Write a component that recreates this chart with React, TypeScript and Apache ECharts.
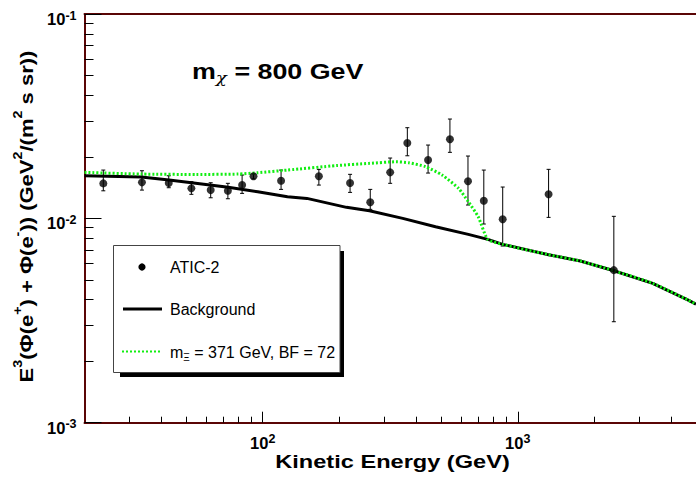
import React, { useEffect, useRef } from 'react';
import * as echarts from 'echarts';

// ATIC-2 data points (E in GeV, E^3 * flux)
const energy = [23.7, 33.6, 42.8, 52.5, 62.5, 73.0, 83.0, 92.0, 118, 166, 220, 264, 316, 369, 445, 542, 638, 736, 873, 1321, 2381];
const flux = [0.01483, 0.015, 0.01489, 0.01402, 0.01375, 0.01364, 0.01455, 0.01606, 0.01528, 0.01606, 0.01489, 0.01198, 0.01679, 0.02336, 0.01929, 0.02436, 0.01518, 0.0122, 0.00989, 0.01311, 0.00558];
const fluxLow = [0.01364, 0.01375, 0.01412, 0.01311, 0.01261, 0.01247, 0.01325, 0.0156, 0.01386, 0.01455, 0.0134, 0.01107, 0.01484, 0.02024, 0.01666, 0.02104, 0.01162, 0.00938, 0.00732, 0.01011, 0.00312];
const fluxHigh = [0.01723, 0.0171, 0.01616, 0.01511, 0.01494, 0.01484, 0.01629, 0.0165, 0.01723, 0.01737, 0.01642, 0.01386, 0.01973, 0.02777, 0.02284, 0.03062, 0.02018, 0.01723, 0.01423, 0.01737, 0.01023];

// Background curve
const bgEnergy = [20, 33.4, 42.9, 52.6, 73.2, 95.6, 125, 149, 213, 262, 354, 476, 640, 763, 873, 1307, 1760, 2383, 3382, 4663, 5000];
const bgFlux = [0.01616, 0.01593, 0.0154, 0.01494, 0.01418, 0.01349, 0.01275, 0.01252, 0.01132, 0.01089, 0.01, 0.0091, 0.00835, 0.00789, 0.00746, 0.00666, 0.00618, 0.00554, 0.00481, 0.00398, 0.0038];

// Signal + background curve
const sigEnergy = [20, 33.4, 55, 80, 95.6, 125, 195, 262, 333, 374, 435, 505, 586, 640, 700, 763, 873, 1307, 1760, 2383, 3382, 4663, 5000];
const sigFlux = [0.01679, 0.01647, 0.0164, 0.01647, 0.01672, 0.01723, 0.01813, 0.01858, 0.01892, 0.01871, 0.01789, 0.01629, 0.01402, 0.01206, 0.01018, 0.00789, 0.00746, 0.00666, 0.00618, 0.00554, 0.00481, 0.00398, 0.0038];

const xMajorTicks = [100, 1000];
const xMinorTicks = [30, 40, 50, 60, 70, 80, 90, 200, 300, 400, 500, 600, 700, 800, 900, 2000, 3000, 4000];
const yMajorTicks = [0.001, 0.01, 0.1];
const yMinorTicks = [0.002, 0.003, 0.004, 0.005, 0.006, 0.007, 0.008, 0.009, 0.02, 0.03, 0.04, 0.05, 0.06, 0.07, 0.08, 0.09];

const FONT = '"Liberation Sans", Arial, Helvetica, sans-serif';
const FRAME = '#5a0505';
const GREEN = '#11ee11';

const powLabel = (v: number) => `{b|10}{s|${Math.round(Math.log10(v))}}`;
const labelRich = {
  b: { fontSize: 16.5, fontWeight: 'bold', fontFamily: FONT, lineHeight: 20, color: '#000' },
  s: { fontSize: 12.5, fontWeight: 'bold', fontFamily: FONT, lineHeight: 12, verticalAlign: 'top', color: '#000' },
};

export default function App() {
  const ref = useRef<HTMLDivElement>(null);
  useEffect(() => {
    document.body.style.margin = '0';
    const chart = echarts.init(ref.current!, null, { renderer: 'svg' });
    const xBase = { type: 'log', logBase: 10, min: 20, max: 5000, splitLine: { show: false }, minorTick: { show: false } };
    const yBase = { type: 'log', logBase: 10, min: 0.001, max: 0.1, splitLine: { show: false }, minorTick: { show: false } };
    const option: any = {
      animation: false,
      backgroundColor: '#fff',
      grid: { left: 84.5, top: 14, width: 619.3, height: 408.7, containLabel: false },
      xAxis: [
        {
          ...xBase, position: 'bottom',
          axisLine: { show: true, lineStyle: { color: FRAME, width: 2 } },
          axisTick: { show: true, inside: true, length: 11, customValues: xMajorTicks, lineStyle: { color: '#000', width: 1 } },
          axisLabel: { show: true, customValues: xMajorTicks, margin: 10, fontSize: 16.5, fontWeight: 'bold', fontFamily: FONT, color: '#000', formatter: powLabel, rich: labelRich },
        },
        {
          ...xBase, position: 'bottom',
          axisLine: { show: false },
          axisTick: { show: true, inside: true, length: 6, customValues: xMinorTicks, lineStyle: { color: '#000', width: 1 } },
          axisLabel: { show: false },
        },
        {
          ...xBase, position: 'top',
          axisLine: { show: true, lineStyle: { color: FRAME, width: 2 } },
          axisTick: { show: false },
          axisLabel: { show: false },
        },
      ],
      yAxis: [
        {
          ...yBase, position: 'left',
          axisLine: { show: true, lineStyle: { color: FRAME, width: 2 } },
          axisTick: { show: true, inside: true, length: 17, customValues: yMajorTicks, lineStyle: { color: '#000', width: 1 } },
          axisLabel: { show: true, customValues: yMajorTicks, margin: 8, padding: [10, 0, 0, 0], fontSize: 16.5, fontWeight: 'bold', fontFamily: FONT, color: '#000', formatter: powLabel, rich: labelRich },
        },
        {
          ...yBase, position: 'left',
          axisLine: { show: false },
          axisTick: { show: true, inside: true, length: 9, customValues: yMinorTicks, lineStyle: { color: '#000', width: 1 } },
          axisLabel: { show: false },
        },
      ],
      series: [
        {
          type: 'custom',
          xAxisIndex: 0,
          yAxisIndex: 0,
          z: 2,
          data: energy.map((e, i) => [e, fluxLow[i], fluxHigh[i]]),
          encode: { x: 0, y: [1, 2] },
          renderItem: (params: any, api: any) => {
            const x = api.value(0);
            const lo = api.coord([x, api.value(1)]);
            const hi = api.coord([x, api.value(2)]);
            const cap = 2;
            const st = { stroke: '#000', lineWidth: 1 };
            return {
              type: 'group',
              children: [
                { type: 'line', shape: { x1: lo[0], y1: lo[1], x2: hi[0], y2: hi[1] }, style: st },
                { type: 'line', shape: { x1: lo[0] - cap, y1: lo[1], x2: lo[0] + cap, y2: lo[1] }, style: st },
                { type: 'line', shape: { x1: hi[0] - cap, y1: hi[1], x2: hi[0] + cap, y2: hi[1] }, style: st },
              ],
            };
          },
        },
        {
          type: 'line',
          name: 'Background',
          z: 3,
          showSymbol: false,
          symbol: 'none',
          data: bgEnergy.map((e, i) => [e, bgFlux[i]]),
          lineStyle: { color: '#000', width: 3 },
        },
        {
          type: 'line',
          name: 'Signal',
          z: 4,
          showSymbol: false,
          symbol: 'none',
          smooth: 0.2,
          data: sigEnergy.map((e, i) => [e, sigFlux[i]]),
          lineStyle: { color: GREEN, width: 3, type: [2, 2] },
        },
        {
          type: 'scatter',
          name: 'ATIC-2',
          z: 5,
          symbol: 'circle',
          symbolSize: 8,
          itemStyle: { color: '#000' },
          data: energy.map((e, i) => [e, flux[i]]),
        },
      ],
      graphic: [
        { type: 'rect', shape: { x: 120, y: 251, width: 224, height: 126 }, style: { fill: '#000' } },
        { type: 'rect', shape: { x: 113.5, y: 245.5, width: 226.5, height: 127 }, style: { fill: '#fff', stroke: '#444', lineWidth: 1 } },
        { type: 'circle', shape: { cx: 142, cy: 267, r: 3.6 }, style: { fill: '#000' } },
        { type: 'text', x: 170, y: 267, style: { text: 'ATIC-2', fontSize: 16, fontFamily: FONT, fill: '#000', align: 'left', verticalAlign: 'middle' } },
        { type: 'line', shape: { x1: 123, y1: 309, x2: 162, y2: 309 }, style: { stroke: '#000', lineWidth: 3 } },
        { type: 'text', x: 170, y: 309, style: { text: 'Background', fontSize: 16, fontFamily: FONT, fill: '#000', align: 'left', verticalAlign: 'middle' } },
        { type: 'line', shape: { x1: 122, y1: 351.5, x2: 160, y2: 351.5 }, style: { stroke: GREEN, lineWidth: 2, lineDash: [2, 2] } },
        {
          type: 'text', x: 170, y: 352,
          style: {
            text: 'm{sub|Ξ} = 371 GeV, BF = 72', fontSize: 16, fontFamily: FONT, fill: '#000', align: 'left', verticalAlign: 'middle', lineHeight: 20,
            rich: { sub: { fontSize: 10, fontFamily: FONT, lineHeight: 10, verticalAlign: 'bottom', fill: '#000' } },
          },
        },
        {
          type: 'text', x: 192, y: 71, scaleX: 1.22,
          style: {
            text: 'm{sub|χ} = 800 GeV', fontSize: 22, fontWeight: 'bold', fontFamily: FONT, fill: '#000', align: 'left', verticalAlign: 'middle', lineHeight: 28,
            rich: { sub: { fontSize: 15, fontStyle: 'italic', fontFamily: '"DejaVu Serif", serif', lineHeight: 12, verticalAlign: 'bottom', fill: '#000' } },
          },
        },
        {
          type: 'text', x: 392.5, y: 462, scaleX: 1.31,
          style: { text: 'Kinetic Energy (GeV)', fontSize: 18, fontWeight: 'bold', fontFamily: FONT, fill: '#000', align: 'center', verticalAlign: 'middle' },
        },
        {
          type: 'text', x: 27, y: 216.5, rotation: Math.PI / 2, scaleX: 1.19,
          style: {
            text: 'E{sup|3}(Φ(e{sup|+}) + Φ(e{sup|-})) (GeV{sup|2}/(m{sup|2} s sr))',
            fontSize: 18.5, fontWeight: 'bold', fontFamily: FONT, fill: '#000', align: 'center', verticalAlign: 'middle', lineHeight: 30,
            rich: { sup: { fontSize: 12, fontWeight: 'bold', fontFamily: FONT, lineHeight: 12, verticalAlign: 'top', fill: '#000' } },
          },
        },
      ],
    };
    chart.setOption(option);
    return () => chart.dispose();
  }, []);
  return <div ref={ref} style={{ position: 'absolute', left: 0, top: 0, width: 696, height: 479, background: '#fff' }} />;
}
